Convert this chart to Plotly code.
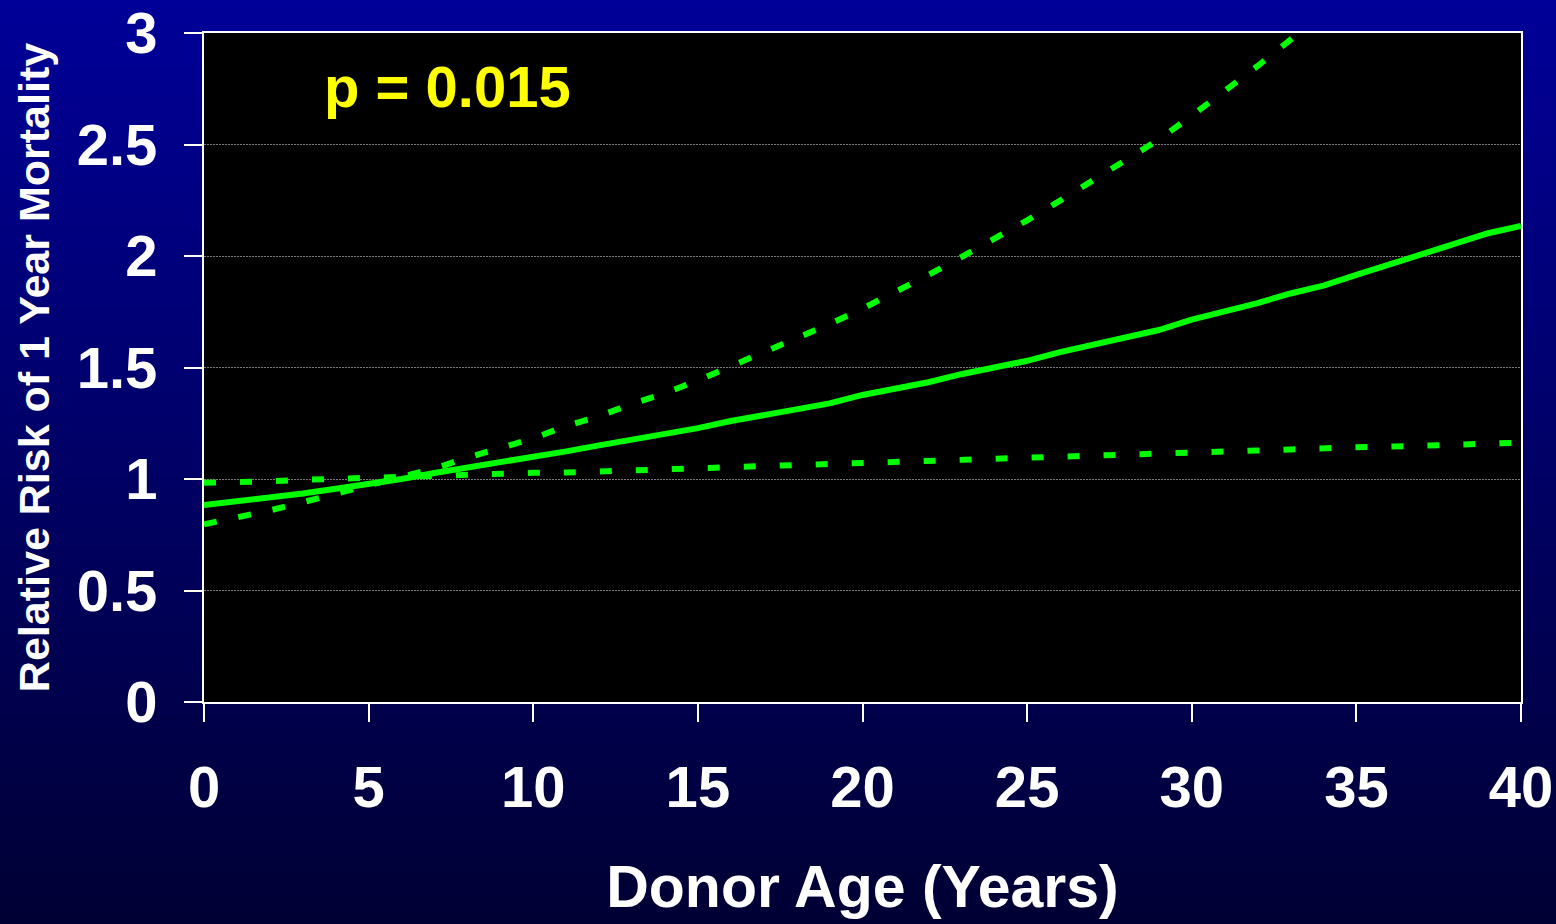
import plotly.graph_objects as go

# ---- data ----
donor_age = list(range(0, 41))
rr_estimate = [0.883, 0.899, 0.917, 0.935, 0.956, 0.977, 1.000, 1.027, 1.051, 1.073,
               1.096, 1.124, 1.151, 1.177, 1.198, 1.228, 1.260, 1.287, 1.313, 1.339,
               1.377, 1.406, 1.434, 1.470, 1.502, 1.530, 1.569, 1.603, 1.638, 1.668,
               1.715, 1.750, 1.789, 1.832, 1.867, 1.915, 1.963, 2.012, 2.057, 2.102,
               2.135]
upper_age = list(range(0, 35))
rr_upper = [0.797, 0.825, 0.859, 0.896, 0.934, 0.973, 1.009, 1.047, 1.096, 1.141,
            1.182, 1.238, 1.282, 1.337, 1.385, 1.442, 1.505, 1.563, 1.627, 1.695,
            1.764, 1.837, 1.915, 1.995, 2.075, 2.160, 2.248, 2.341, 2.434, 2.522,
            2.629, 2.737, 2.852, 2.970, 3.090]
rr_lower = [0.983, 0.984, 0.990, 0.996, 1.001, 1.005, 1.011, 1.016, 1.019, 1.022,
            1.028, 1.029, 1.035, 1.037, 1.043, 1.049, 1.053, 1.058, 1.063, 1.068,
            1.073, 1.077, 1.082, 1.085, 1.089, 1.095, 1.099, 1.103, 1.107, 1.113,
            1.122, 1.127, 1.130, 1.135, 1.137, 1.142, 1.145, 1.150, 1.157, 1.160,
            1.163]
x_ticks = [0, 5, 10, 15, 20, 25, 30, 35, 40]
y_ticks = [0, 0.5, 1, 1.5, 2, 2.5, 3]
y_tick_labels = ["0", "0.5", "1", "1.5", "2", "2.5", "3"]
p_label = "p = 0.015"

W, H = 1556, 924
ML, MR, MT, MB = 204, 35, 33, 222
PW, PH = W - ML - MR, H - MT - MB
FONT = "Liberation Sans, Arial, sans-serif"
GREEN = "#00ff00"

fig = go.Figure()
fig.add_trace(go.Scatter(x=donor_age, y=rr_lower, mode="lines",
                         line=dict(color=GREEN, width=6, dash="12px,24px"),
                         showlegend=False, hoverinfo="skip"))
fig.add_trace(go.Scatter(x=upper_age, y=rr_upper, mode="lines",
                         line=dict(color=GREEN, width=6, dash="13px,22px"),
                         showlegend=False, hoverinfo="skip"))
fig.add_trace(go.Scatter(x=donor_age, y=rr_estimate, mode="lines",
                         line=dict(color=GREEN, width=6),
                         showlegend=False, hoverinfo="skip"))

# vertical gradient background (navy -> dark navy)
shapes = []
step = 4
top_c, bot_c = 152, 52
for py in range(0, H, step):
    t = (py + step / 2) / H
    b = round(top_c + (bot_c - top_c) * t)
    shapes.append(dict(type="rect", xref="paper", yref="paper", layer="below",
                       x0=-ML / PW, x1=(W - ML) / PW,
                       y0=(H - MB - py - step) / PH, y1=(H - MB - py) / PH,
                       fillcolor=f"rgb(0,0,{b})", line=dict(width=0)))
shapes.append(dict(type="rect", xref="paper", yref="paper", layer="below",
                   x0=0, x1=1, y0=0, y1=1, fillcolor="black", line=dict(width=0)))

fig.update_layout(
    width=W, height=H,
    margin=dict(l=ML, r=MR, t=MT, b=MB, autoexpand=False),
    paper_bgcolor="rgb(0,0,100)", plot_bgcolor="black",
    shapes=shapes,
    font=dict(family=FONT, color="white"),
    annotations=[dict(text=p_label, xref="paper", yref="paper",
                      x=(322 - ML) / PW, y=(H - MB - 86) / PH,
                      xanchor="left", yanchor="middle", showarrow=False,
                      font=dict(family=FONT, size=58, color="#ffff00", weight="bold"))],
)
fig.update_xaxes(range=[0, 40], tickvals=x_ticks, ticks="outside", ticklen=18,
                 tickwidth=2, tickcolor="white", showline=True, linecolor="white",
                 linewidth=2, mirror=True, showgrid=False, zeroline=False,
                 tickfont=dict(family=FONT, size=58, color="white", weight="bold"),
                 ticklabelstandoff=15,
                 title=dict(text="Donor Age (Years)", standoff=48,
                            font=dict(family=FONT, size=59, color="white", weight="bold")))
fig.update_yaxes(range=[0, 3], tickvals=y_ticks, ticktext=y_tick_labels,
                 ticks="outside", ticklen=18, tickwidth=2, tickcolor="white",
                 showline=True, linecolor="white", linewidth=2, mirror=True,
                 showgrid=True, gridcolor="#7a7a7a", gridwidth=1, griddash="2px,1px",
                 zeroline=False,
                 tickfont=dict(family=FONT, size=58, color="white", weight="bold"),
                 ticklabelstandoff=15,
                 title=dict(text="Relative Risk of 1 Year Mortality", standoff=14,
                            font=dict(family=FONT, size=43, color="white", weight="bold")))

fig.write_html("out.html", config={"displayModeBar": False},
               post_script="document.body.style.margin='0';document.body.style.overflow='hidden';")
